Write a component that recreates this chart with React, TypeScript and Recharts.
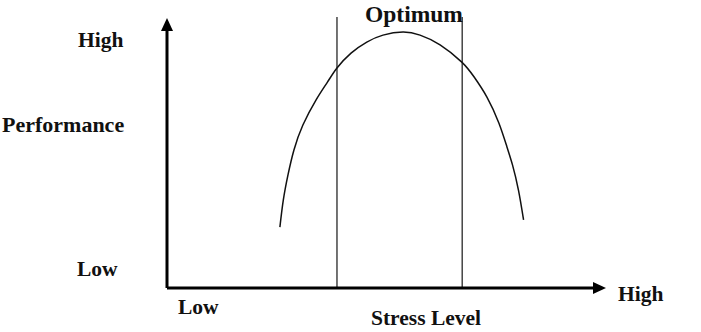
import { ComposedChart, Line, XAxis, YAxis, ReferenceLine } from "recharts";

// inverted-U: performance vs stress (0-100 on both axes)
const stress = [26.5, 27.3, 28.4, 29.8, 31.9, 35.0, 37.7, 39.9, 43.2, 46.9, 50.7, 55.4, 59.4, 64.1, 69.2, 72.1, 75.1, 77.9, 79.8, 81.1, 82.5, 83.7];
const performance = [23.7, 34.2, 44.0, 53.7, 63.4, 73.2, 80.2, 85.6, 91.4, 95.7, 98.4, 99.6, 98.4, 94.6, 87.9, 82.1, 74.3, 64.2, 54.9, 47.9, 38.1, 26.5];
const optimumBounds = [39.9, 69.3];
const optimumTop = 105.4;

const data = stress.map((s, i) => ({ s, p: performance[i] }));

const W = 701;
const H = 332;
const font = { fontFamily: "'Liberation Serif', 'Times New Roman', serif", fontWeight: 700, fill: "#111" };

const arrowLine = (marker: "start" | "end") => (p: any) => (
  <line
    x1={p.x1}
    y1={p.y1}
    x2={p.x2}
    y2={p.y2}
    stroke="#000"
    strokeWidth={3}
    markerEnd={marker === "end" ? "url(#arrow)" : undefined}
    markerStart={marker === "start" ? "url(#arrow)" : undefined}
  />
);

export default function App() {
  return (
    <div style={{ position: "absolute", left: 0, top: 0, width: W, height: H, background: "#fff" }}>
      <svg width={0} height={0} style={{ position: "absolute" }}>
        <defs>
          <marker id="arrow" markerUnits="userSpaceOnUse" markerWidth={14} markerHeight={14} refX={0} refY={6} orient="auto-start-reverse">
            <path d="M0,0 L13,6 L0,12 Z" fill="#000" />
          </marker>
        </defs>
      </svg>
      <ComposedChart width={W} height={H} data={data} margin={{ top: 31, right: 108, bottom: 44, left: 167 }}>
        <XAxis dataKey="s" type="number" domain={[0, 100]} hide />
        <YAxis type="number" domain={[0, 100]} hide />
        {optimumBounds.map((x) => (
          <ReferenceLine
            key={x}
            segment={[{ x, y: 0 }, { x, y: optimumTop }]}
            ifOverflow="visible"
            stroke="#444"
            strokeWidth={1.5}
          />
        ))}
        {/* axes with arrowheads */}
        <ReferenceLine segment={[{ x: 0, y: 0 }, { x: 100, y: 0 }]} ifOverflow="visible" shape={arrowLine("end")} />
        <ReferenceLine segment={[{ x: 0, y: 100 }, { x: 0, y: 0 }]} ifOverflow="visible" shape={arrowLine("start")} />
        <Line dataKey="p" type="natural" stroke="#111" strokeWidth={1.5} dot={false} isAnimationActive={false} />
      </ComposedChart>
      <svg width={W} height={H} style={{ position: "absolute", left: 0, top: 0, pointerEvents: "none" }}>
        <text x={365} y={22} fontSize={23.5} {...font}>Optimum</text>
        <text x={78} y={47} fontSize={21.5} {...font}>High</text>
        <text x={2} y={132} fontSize={22} {...font}>Performance</text>
        <text x={77} y={276} fontSize={21.5} {...font}>Low</text>
        <text x={178} y={314} fontSize={21.5} {...font}>Low</text>
        <text x={371} y={325} fontSize={21.5} {...font}>Stress Level</text>
        <text x={618} y={301} fontSize={21.5} {...font}>High</text>
      </svg>
    </div>
  );
}
